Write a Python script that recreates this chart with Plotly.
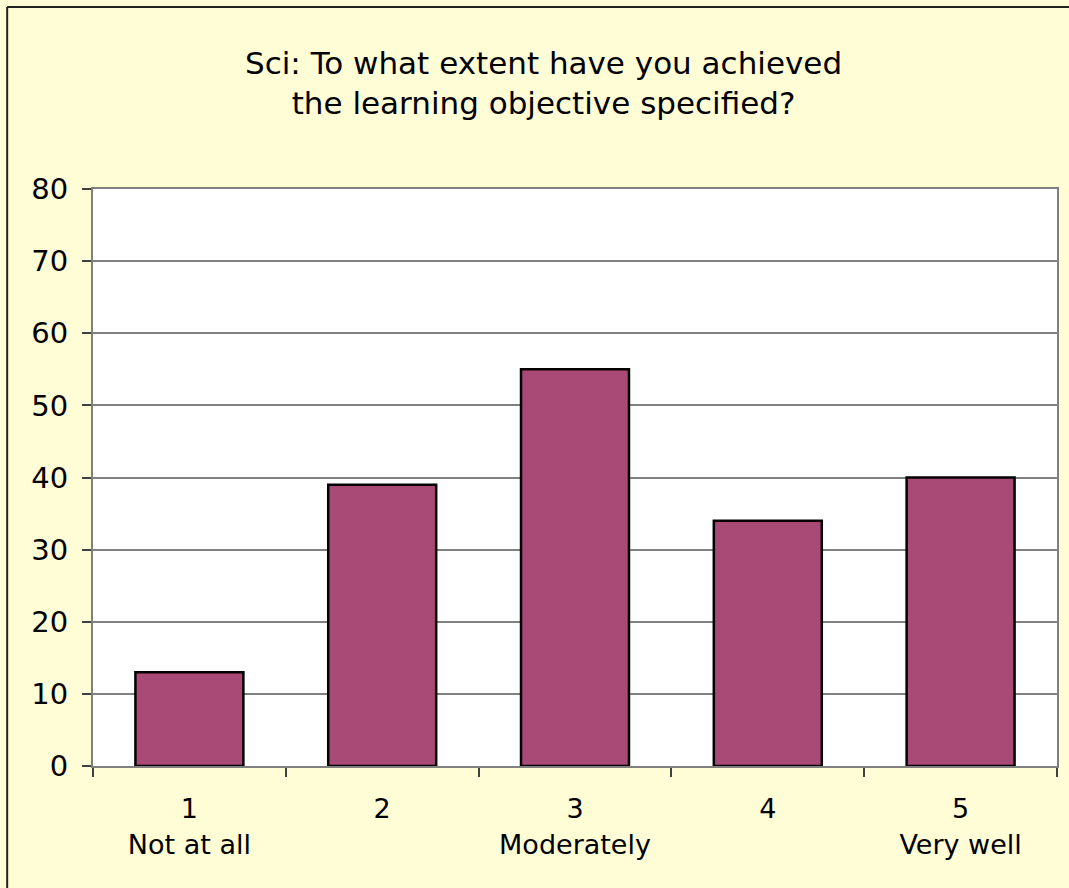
import plotly.graph_objects as go

categories = ["1<br>Not at all", "2", "3<br>Moderately", "4", "5<br>Very well"]
values = [13, 39, 55, 34, 40]
y_ticks = [0, 10, 20, 30, 40, 50, 60, 70, 80]
title_text = "Sci: To what extent have you achieved<br>the learning objective specified?"

FONT = "DejaVu Sans"
W, H = 1069, 888
L, R, T, B = 93, 10, 189, 122
pw, ph = W - L - R, H - T - B

def px_x(p):
    return (p - L) / pw

def px_y(p):
    return (H - B - p) / ph

fig = go.Figure(go.Bar(
    x=categories, y=values,
    marker=dict(color="#A94A76", line=dict(color="black", width=2.5)),
    width=0.56,
))

fig.update_layout(
    width=W, height=H,
    margin=dict(l=L, r=R, t=T, b=B),
    paper_bgcolor="#FFFDD5",
    plot_bgcolor="white",
    showlegend=False,
    font=dict(family=FONT, size=27, color="black"),
    annotations=[dict(
        text=title_text, xref="paper", yref="paper",
        x=px_x(544), y=px_y(83), xanchor="center", yanchor="middle",
        showarrow=False, font=dict(family=FONT, size=31, color="black"),
    )],
    shapes=[
        dict(type="line", xref="paper", yref="paper",
             x0=px_x(7), x1=px_x(7), y0=px_y(900), y1=px_y(7),
             line=dict(color="#222222", width=2)),
        dict(type="line", xref="paper", yref="paper",
             x0=px_x(7), x1=px_x(1080), y0=px_y(7), y1=px_y(7),
             line=dict(color="#222222", width=2)),
    ],
)

fig.update_xaxes(
    type="category",
    showline=True, linecolor="#808080", linewidth=2, mirror=True,
    ticks="outside", tickson="boundaries", ticklen=9, tickcolor="#404040", tickwidth=1.5,
    showgrid=False, ticklabelstandoff=18,
    tickfont=dict(family=FONT, size=27),
)
fig.update_yaxes(
    range=[0, 80], tickvals=y_ticks, ticktext=[str(v) for v in y_ticks],
    showline=True, linecolor="#808080", linewidth=2, mirror=True,
    ticks="outside", ticklen=9, tickcolor="#404040", tickwidth=1.5,
    showgrid=True, gridcolor="#808080", gridwidth=1.5,
    zeroline=False, ticklabelstandoff=8,
    tickfont=dict(family=FONT, size=29),
)

fig.write_html(
    "out.html",
    config={"displayModeBar": False},
    post_script="document.body.style.margin='0';document.body.style.padding='0';",
)
